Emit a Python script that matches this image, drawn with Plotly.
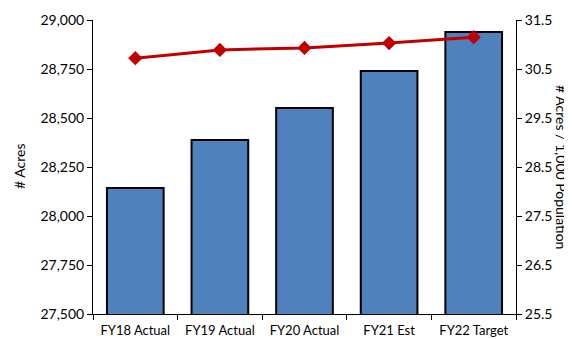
import plotly.graph_objects as go

# Chart data
years = ["FY18 Actual", "FY19 Actual", "FY20 Actual", "FY21 Est", "FY22 Target"]
acres = [28143, 28388, 28551, 28740, 28939]
acres_per_1000 = [30.72, 30.89, 30.93, 31.03, 31.15]

left_ticks = [27500, 27750, 28000, 28250, 28500, 28750, 29000]
right_ticks = [25.5, 26.5, 27.5, 28.5, 29.5, 30.5, 31.5]

font_family = "Lato, 'Open Sans', sans-serif"

fig = go.Figure()

# Bars for total acres
fig.add_trace(go.Bar(
    x=years,
    y=acres,
    marker=dict(color="#4F81BD", line=dict(color="black", width=2)),
    name="# Acres",
))

# Line for acres per 1,000 population
fig.add_trace(go.Scatter(
    x=years,
    y=acres_per_1000,
    mode="lines+markers",
    line=dict(color="#C00000", width=3),
    marker=dict(symbol="diamond", size=11, color="#C00000"),
    yaxis="y2",
    name="# Acres / 1,000 Population",
))

# page body has an 8px margin, so the figure is a bit smaller than the window
fig.update_layout(
    width=564,
    height=331,
    margin=dict(l=85, r=56, t=12, b=25),
    paper_bgcolor="white",
    plot_bgcolor="white",
    showlegend=False,
    bargap=0.33,
    font=dict(family=font_family, size=13, color="black"),
    xaxis=dict(
        type="category",
        showline=True,
        linecolor="black",
        linewidth=1,
        ticks="outside",
        tickson="boundaries",
        ticklen=5,
        tickcolor="black",
        showgrid=False,
        automargin=False,
        ticklabelstandoff=4,
        tickfont=dict(size=13),
    ),
    yaxis=dict(
        range=[27500, 29000],
        tickvals=left_ticks,
        tickformat=",",
        showline=True,
        linecolor="black",
        linewidth=1,
        ticks="outside",
        ticklen=5,
        tickcolor="black",
        showgrid=False,
        zeroline=False,
        automargin=False,
        tickfont=dict(size=14),
    ),
    yaxis2=dict(
        overlaying="y",
        side="right",
        range=[25.5, 31.5],
        tickvals=right_ticks,
        tickformat=".1f",
        showline=True,
        linecolor="black",
        linewidth=1,
        ticks="outside",
        ticklen=5,
        tickcolor="black",
        showgrid=False,
        zeroline=False,
        automargin=False,
        tickfont=dict(size=14),
    ),
)

# Axis titles as annotations so they sit where the reference puts them
fig.add_annotation(
    text="# Acres",
    textangle=-90,
    xref="paper", yref="paper",
    x=0.0, y=0.5,
    xanchor="center", yanchor="middle",
    xshift=-74,
    showarrow=False,
    font=dict(size=14),
)
fig.add_annotation(
    text="# Acres / 1,000 Population",
    textangle=90,
    xref="paper", yref="paper",
    x=1.0, y=0.5,
    xanchor="center", yanchor="middle",
    xshift=46,
    showarrow=False,
    font=dict(size=14),
)

fig.write_html("out.html")
